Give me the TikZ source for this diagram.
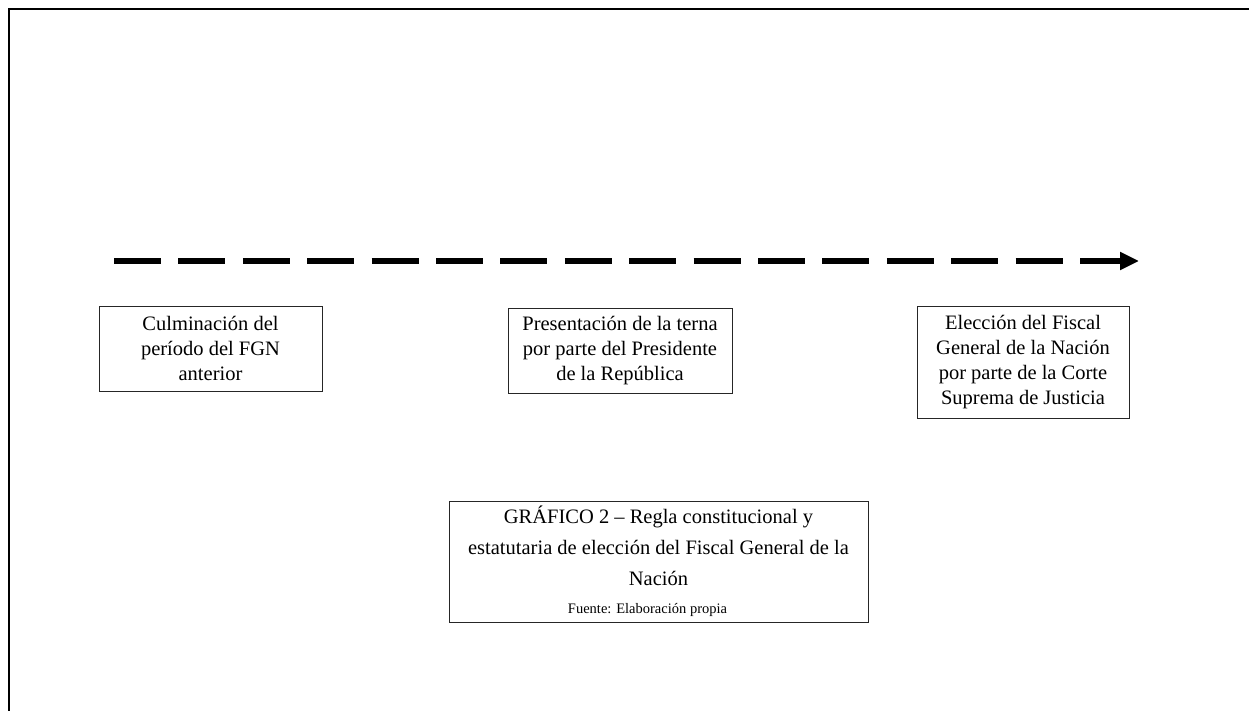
\documentclass[tikz,border=0pt]{standalone}
\usepackage{fontspec}
\setmainfont{Liberation Serif}
\usepackage{tikz}
\usetikzlibrary{arrows.meta}
\tikzset{caja/.style={draw=black!85, line width=0.8pt, inner sep=0pt,
  align=center, font=\fontsize{20.5}{25}\selectfont},
  linea/.style={line width=5.5pt, dash pattern=on 47pt off 17.4pt,
  -{Triangle[length=19pt,width=17pt]}}}

\begin{document}
\begin{tikzpicture}[x=1pt,y=1pt]
      \useasboundingbox (0,0) rectangle (1249,-711);
      \fill [white] (0,0) rectangle (1249,-711);
      \draw [line width=2pt] (9,-740) -- (9,-9) -- (1280,-9);

      \coordinate (ini) at (114,-261);
      \coordinate (fin) at (1139,-261);
      \draw [linea] (ini) -- (fin);

      \node [caja, minimum width=223pt, minimum height=85pt] (fgn) at (210.5,-348.5)
        {Culminación del\\período del FGN\\anterior};
      \node [caja, minimum width=224pt, minimum height=85pt] (terna) at (620,-350.5)
        {Presentación de la terna\\por parte del Presidente\\de la República};
      \node [caja, minimum width=212pt, minimum height=112pt] (eleccion) at (1023,-362)
        {Elección del Fiscal\\General de la Nación\\por parte de la Corte\\Suprema de Justicia};

      \node [caja, minimum width=419pt, minimum height=121pt,
        font=\fontsize{20.5}{31}\selectfont] (grafico) at (658.5,-561.5)
        {GRÁFICO 2 – Regla constitucional y\\estatutaria de elección del Fiscal General de la\\Nación\\[-3pt]
        {\fontsize{14.5}{15}\selectfont Fuente: Elaboración propia\hspace*{22pt}}};
    \end{tikzpicture}
\end{document}
